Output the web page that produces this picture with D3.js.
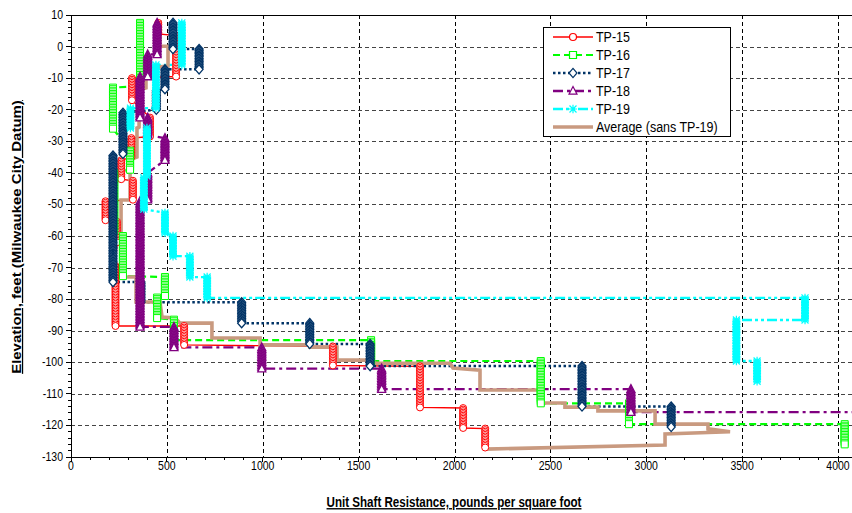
<!DOCTYPE html>
<html>
<head>
<meta charset="utf-8">
<script src="https://cdn.jsdelivr.net/npm/d3@7"></script>
<style>
  html, body { margin: 0; padding: 0; background: #fff; }
  svg { display: block; font-family: "Liberation Sans", Arial, sans-serif; }
</style>
</head>
<body>
<svg id="chart" width="852" height="513"></svg>
<script>
// ---- axis ticks ----
const xTickValues = [0, 500, 1000, 1500, 2000, 2500, 3000, 3500, 4000];
const yTickValues = [10, 0, -10, -20, -30, -40, -50, -60, -70, -80, -90, -100, -110, -120, -130];

// ---- test piles: layer value (psf) with top / bottom elevation (ft) ----
const tp15Value  = [455, 548, 318, 412, 315, 262, 323, 180, 240, 232, 590, 1366, 1820, 2045, 2160];
const tp15Top    = [7.5, 3.5, -10, -22.5, -29, -36, -42.5, -49, -55.5, -69.5, -88.5, -95, -101.3, -114.5, -121];
const tp15Bottom = [4, -9.5, -17, -28.5, -35, -42, -48.5, -55, -62, -88.5, -94.5, -101, -114.3, -120.8, -127];

const tp16Value  = [360, 219, 308, 225, 271, 490, 449, 537, 1565, 2450, 2910, 4035];
const tp16Top    = [7.5, -13, -33, -40, -60, -73, -79.5, -86.5, -93, -99.6, -113, -119.6];
const tp16Bottom = [-12.5, -26, -39, -58.5, -72.7, -79, -86, -93, -99.6, -113, -119.6, -126];

const tp17Value  = [532, 668, 490, 445, 271, 219, 365, 890, 1245, 1560, 2665, 3130];
const tp17Top    = [7.5, -0.8, -7.2, -14, -21, -34.5, -74.6, -81, -87.6, -94.2, -101.2, -114];
const tp17Bottom = [-0.8, -7.2, -13.5, -20, -34, -74.6, -81, -87.6, -94.2, -101.2, -114, -120.5];

const tp18Value  = [449, 400, 360, 400, 490, 400, 360, 537, 995, 1620, 2920, 4250];
const tp18Top    = [7.5, -2.5, -9.5, -22.5, -29, -40, -49, -88.8, -95.3, -102, -108.5, -115.8];
const tp18Bottom = [-2.5, -9.5, -22.5, -28, -36, -48.5, -88.8, -95.3, -102, -108.5, -115.8, -122];

const tp19Value  = [578, 443, 310, 396, 380, 490, 532, 620, 710, 3828, 3470, 3578];
const tp19Top    = [7.5, -5.8, -19.5, -25.8, -41.5, -52.7, -60, -66.4, -73, -79.6, -86.6, -99.6];
const tp19Bottom = [-5.8, -19.5, -25.8, -41, -51.5, -59, -66.4, -73, -79.6, -86.6, -99.6, -106];

// ---- average profile excluding TP-19 (value, elevation) ----
const avgValue = [464, 464, 506, 506, 391, 391, 355, 355, 344, 344, 308, 308, 261, 261, 339, 339,
                  464, 475, 542, 568, 735, 735, 986, 986, 1246, 1246, 1387, 1387, 1575, 1585, 1977, 1992,
                  2133, 2133, 2446, 2446, 2576, 2576, 2748, 2748, 3046, 3046, 3322, 3322, 3437, 3098, 3098, 2159];
const avgElev  = [8.4, 0.1, 0.1, -6.2, -6.8, -13.1, -13.8, -25.5, -25.8, -35, -35.9, -48.6, -48.6, -73, -73, -80.9,
                  -80.9, -85.7, -86, -87.6, -87.6, -92.3, -92.3, -94.5, -94.5, -95.2, -95.2, -99.3, -99.3, -100.3, -100.3, -101.8,
                  -102.5, -108.8, -108.8, -112.9, -112.9, -114.2, -114.2, -115.4, -115.4, -119.6, -119.6, -121.1, -122, -122.7, -126.2, -127.5];

const seriesNames = ["TP-15", "TP-16", "TP-17", "TP-18", "TP-19"];
const averageName = "Average (sans TP-19)";

// readings are logged every half foot of depth
const SAMPLE_STEP = 0.5;

// ---- layout ----
const svg = d3.select("#chart");
const plot = { left: 71, right: 852, top: 15, bottom: 457 };
const TEXT_STRETCH = 1.19;

const x = d3.scaleLinear().domain([0, 4000]).range([71, 838]);
const y = d3.scaleLinear().domain([-130, 10]).range([plot.bottom, plot.top]);

// expand each layer into one reading per sample step
function profile(values, tops, bottoms) {
  const pts = [];
  values.forEach((v, i) => {
    const n = Math.max(1, Math.round((tops[i] - bottoms[i]) / SAMPLE_STEP) + 1);
    for (let k = 0; k < n; k++) {
      const e = n === 1 ? tops[i] : tops[i] + (bottoms[i] - tops[i]) * k / (n - 1);
      pts.push([v, e]);
    }
  });
  return pts;
}

// marker shapes
const markerPath = {
  circle: "M3.5,0A3.5,3.5,0,1,1,-3.5,0A3.5,3.5,0,1,1,3.5,0Z",
  square: "M-3.5,-3.5H3.5V3.5H-3.5Z",
  diamond: "M0,-4.6L4,0L0,4.6L-4,0Z",
  triangle: "M0,-4.5L4,3.2L-4,3.2Z",
  star: "M0,-4.2V4.2M-3.5,-3.5L3.5,3.5M-3.5,3.5L3.5,-3.5M-4,0H4"
};

const series = [
  { name: seriesNames[0], pts: profile(tp15Value, tp15Top, tp15Bottom), color: "#FF0000", width: 1.4, dash: null, marker: "circle", fill: "#fff", mw: 1 },
  { name: seriesNames[1], pts: profile(tp16Value, tp16Top, tp16Bottom), color: "#00FF00", width: 2.2, dash: "7,4", marker: "square", fill: "#fff", mw: 1 },
  { name: seriesNames[2], pts: profile(tp17Value, tp17Top, tp17Bottom), color: "#003366", width: 2.5, dash: "2.5,2.5", marker: "diamond", fill: "#fff", mw: 1.3 },
  { name: seriesNames[3], pts: profile(tp18Value, tp18Top, tp18Bottom), color: "#800080", width: 2.3, dash: "10,4,3,4", marker: "triangle", fill: "#fff", mw: 1.3 },
  { name: seriesNames[4], pts: profile(tp19Value, tp19Top, tp19Bottom), color: "#00FFFF", width: 2.3, dash: "10,3,3,3,3,3", marker: "star", fill: "none", mw: 1.2 }
];
const avgPts = avgValue.map((v, i) => [v, avgElev[i]]);
const avgColor = "#C99A80";

// ---- gridlines ----
const grid = svg.append("g");
yTickValues.filter(t => t < 10 && t > -130).forEach(t => {
  grid.append("line")
    .attr("x1", plot.left).attr("x2", plot.right)
    .attr("y1", Math.round(y(t)) + 0.5).attr("y2", Math.round(y(t)) + 0.5)
    .attr("stroke", "#444").attr("stroke-width", 1).attr("stroke-dasharray", "4,3");
});
xTickValues.filter(t => t > 0).forEach(t => {
  grid.append("line")
    .attr("x1", Math.round(x(t)) + 0.5).attr("x2", Math.round(x(t)) + 0.5)
    .attr("y1", plot.top).attr("y2", plot.bottom)
    .attr("stroke", "#000").attr("stroke-width", 1).attr("stroke-dasharray", "4,3");
});

// ---- plotting area clip ----
svg.append("defs").append("clipPath").attr("id", "plotClip")
  .append("rect").attr("x", plot.left).attr("y", plot.top - 6)
  .attr("width", plot.right - plot.left).attr("height", plot.bottom - plot.top + 6);

const data = svg.append("g").attr("clip-path", "url(#plotClip)");
const line = d3.line().x(d => x(d[0])).y(d => y(d[1]));

// lines first
series.forEach(s => {
  data.append("path").attr("d", line(s.pts))
    .attr("fill", "none").attr("stroke", s.color).attr("stroke-width", s.width)
    .attr("stroke-dasharray", s.dash).attr("stroke-linejoin", "miter");
});
data.append("path").attr("d", line(avgPts))
  .attr("fill", "none").attr("stroke", avgColor).attr("stroke-width", 3.6)
  .attr("stroke-linejoin", "miter");

// markers on top
series.forEach(s => {
  data.append("g").selectAll("path").data(s.pts).join("path")
    .attr("d", markerPath[s.marker])
    .attr("transform", d => `translate(${x(d[0])},${y(d[1])})`)
    .attr("fill", s.fill).attr("stroke", s.color).attr("stroke-width", s.mw);
});

// ---- axes frame ----
const axes = svg.append("g").attr("stroke", "#000").attr("stroke-width", 1).attr("shape-rendering", "crispEdges");
axes.append("line").attr("x1", plot.left).attr("x2", plot.right).attr("y1", plot.top).attr("y2", plot.top);
axes.append("line").attr("x1", plot.left).attr("x2", plot.right).attr("y1", plot.bottom).attr("y2", plot.bottom);
axes.append("line").attr("x1", plot.left).attr("x2", plot.left).attr("y1", plot.top).attr("y2", plot.bottom);

// minor ticks
for (let v = 100; v <= 4000; v += 100) {
  axes.append("line").attr("x1", x(v)).attr("x2", x(v)).attr("y1", plot.bottom).attr("y2", plot.bottom + 3);
}
for (let e = 8; e >= -128; e -= 2) {
  axes.append("line").attr("x1", plot.left - 3).attr("x2", plot.left).attr("y1", y(e)).attr("y2", y(e));
}
// major ticks
xTickValues.forEach(t => axes.append("line").attr("x1", x(t)).attr("x2", x(t)).attr("y1", plot.bottom).attr("y2", plot.bottom + 5));
yTickValues.forEach(t => axes.append("line").attr("x1", plot.left - 5).attr("x2", plot.left).attr("y1", y(t)).attr("y2", y(t)));

// tick labels
const labels = svg.append("g").attr("font-size", 10.5).attr("fill", "#000");
xTickValues.forEach(t => {
  labels.append("text").attr("transform", `translate(${x(t)},${470}) scale(1,${TEXT_STRETCH})`)
    .attr("text-anchor", "middle").text(t);
});
yTickValues.forEach(t => {
  labels.append("text").attr("transform", `translate(63,${y(t) + 4}) scale(1,${TEXT_STRETCH})`)
    .attr("text-anchor", "end").text(t);
});

// axis titles
svg.append("text")
  .attr("transform", `translate(454,507) scale(1,${TEXT_STRETCH})`)
  .attr("text-anchor", "middle").attr("font-weight", "bold").attr("font-size", 11.6)
  .attr("text-decoration", "underline")
  .text("Unit Shaft Resistance, pounds per square foot");
svg.append("text")
  .attr("transform", `translate(21,237) scale(1,${TEXT_STRETCH}) rotate(-90)`)
  .attr("text-anchor", "middle").attr("font-weight", "bold").attr("font-size", 12.6)
  .attr("text-decoration", "underline")
  .text("Elevation, feet (Milwaukee City Datum)");

// ---- legend ----
const legend = svg.append("g");
legend.append("rect").attr("x", 543.5).attr("y", 27.5).attr("width", 187).attr("height", 109)
  .attr("fill", "#fff").attr("stroke", "#000").attr("stroke-width", 1);
const rowY = [37, 55, 73, 91, 109, 127];
series.forEach((s, i) => {
  const g = legend.append("g").attr("transform", `translate(0,${rowY[i]})`);
  g.append("line").attr("x1", 553).attr("x2", 593).attr("y1", 0).attr("y2", 0)
    .attr("stroke", s.color).attr("stroke-width", s.width).attr("stroke-dasharray", s.dash);
  g.append("path").attr("d", markerPath[s.marker]).attr("transform", "translate(573,0)")
    .attr("fill", s.fill).attr("stroke", s.color).attr("stroke-width", 1.2);
  g.append("text").attr("transform", `translate(596,4.5) scale(1,${TEXT_STRETCH})`)
    .attr("font-size", 12.5).text(s.name);
});
{
  const g = legend.append("g").attr("transform", `translate(0,${rowY[5]})`);
  g.append("line").attr("x1", 553).attr("x2", 593).attr("y1", 0).attr("y2", 0)
    .attr("stroke", avgColor).attr("stroke-width", 3.6);
  g.append("text").attr("transform", `translate(596,4.5) scale(1,${TEXT_STRETCH})`)
    .attr("font-size", 12.5).text(averageName);
}
</script>
</body>
</html>
